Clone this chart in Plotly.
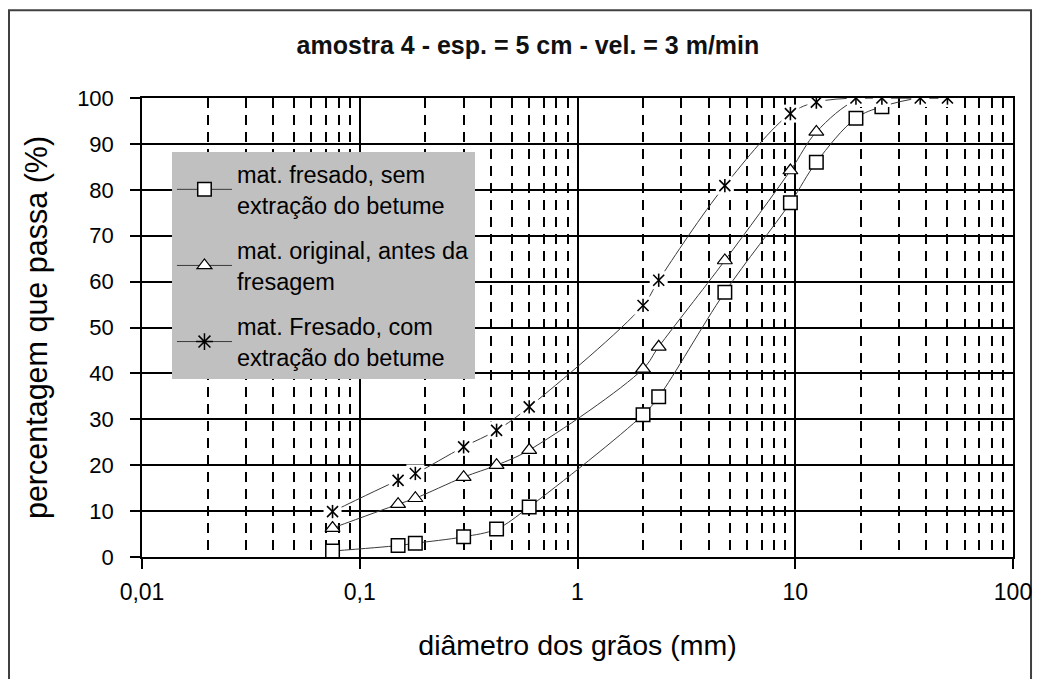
import plotly.graph_objects as go

# ---- data ----
sizes_mm = [0.075, 0.15, 0.18, 0.3, 0.425, 0.6, 2.0, 2.36, 4.75, 9.5, 12.5, 19, 25, 37.5, 50]
fresado_sem = [1.3, 2.5, 3.0, 4.4, 6.1, 10.9, 31.0, 34.9, 57.7, 77.2, 86.0, 95.6, 98.1, 100, 100]
original = [6.3, 11.5, 12.8, 17.4, 20.0, 23.3, 41.0, 45.8, 64.6, 84.2, 92.6, 99.5, 100, 100, 100]
fresado_com = [9.9, 16.7, 18.2, 24.0, 27.6, 32.7, 54.8, 60.3, 80.9, 96.6, 99.1, 100, 100, 100, 100]

names = ["mat. fresado, sem<br>extração do betume",
         "mat. original, antes da<br>fresagem",
         "mat. Fresado, com<br>extração do betume"]

x_tickvals = [0.01, 0.1, 1, 10, 100]
x_ticktext = ["0,01", "0,1", "1", "10", "100"]
y_tickvals = [0, 10, 20, 30, 40, 50, 60, 70, 80, 90, 100]

title_text = "amostra 4 - esp. = 5 cm - vel. = 3 m/min"
x_title = "diâmetro dos grãos (mm)"
y_title = "percentagem que passa (%)"

FONT = "Liberation Sans, Arial, sans-serif"
LINE_C = "#3a3a3a"

fig = go.Figure()

fig.add_trace(go.Scatter(
    x=sizes_mm, y=fresado_sem, name=names[0], legendgroup="a",
    mode="lines+markers", line=dict(color=LINE_C, width=1, shape="spline"),
    marker=dict(symbol="square", size=13.5, color="white", line=dict(color="black", width=1.5)),
))
fig.add_trace(go.Scatter(
    x=sizes_mm, y=original, name=names[1], legendgroup="b",
    mode="lines+markers", line=dict(color=LINE_C, width=1, shape="spline"),
    marker=dict(symbol="triangle-up", size=13, color="white", line=dict(color="black", width=1.2)),
))
fig.add_trace(go.Scatter(
    x=sizes_mm, y=fresado_com, name=names[2], legendgroup="c",
    mode="lines+markers", line=dict(color=LINE_C, width=1, shape="spline"),
    marker=dict(symbol="asterisk-open", size=14, color="black", line=dict(color="black", width=1.5)),
))
# white background boxes of the star markers (Excel style), then the 6-arm star
fig.add_trace(go.Scatter(
    x=sizes_mm, y=fresado_com, mode="markers", showlegend=False, hoverinfo="skip",
    marker=dict(symbol="square", size=18, color="white", line=dict(width=0)),
))
fig.add_trace(go.Scatter(
    x=sizes_mm, y=fresado_com, mode="markers", showlegend=False, hoverinfo="skip",
    marker=dict(symbol="x-thin-open", size=11, color="black", line=dict(color="black", width=1.6)),
))
fig.add_trace(go.Scatter(
    x=sizes_mm, y=fresado_com, mode="markers", showlegend=False, hoverinfo="skip",
    marker=dict(symbol="line-ns-open", size=9.5, color="black", line=dict(color="black", width=1.6)),
))

fig.update_layout(
    width=1041, height=679,
    margin=dict(l=134, r=36, t=90, b=130),
    paper_bgcolor="white", plot_bgcolor="white",
    font=dict(family=FONT, size=22, color="black"),
    title=dict(text="<b>" + title_text + "</b>", x=0.4995, xref="container", xanchor="center",
               y=0.9455, yref="container", yanchor="middle",
               font=dict(family=FONT, size=25, color="#111")),
    showlegend=True,
    legend=dict(x=0.0344, y=0.8817, xanchor="left", yanchor="top",
                bgcolor="#c0c0c0", borderwidth=0,
                font=dict(family=FONT, size=23.5, color="black"),
                traceorder="grouped", tracegroupgap=12, itemwidth=55),
)

fig.update_xaxes(
    type="log", range=[-2, 2],
    tickvals=x_tickvals, ticktext=x_ticktext,
    ticks="outside", ticklen=10, tickwidth=1.5, tickcolor="black",
    ticklabelstandoff=4,
    showgrid=True, gridcolor="black", gridwidth=1.5,
    minor=dict(dtick="D1", showgrid=True, gridcolor="black", gridwidth=1.5,
               griddash="10px,7px", ticks=""),
    showline=True, linecolor="black", linewidth=1.5, mirror=True,
    zeroline=False,
    title=dict(text=x_title, font=dict(family=FONT, size=28.5), standoff=31),
    tickfont=dict(family=FONT, size=23),
)
fig.update_yaxes(
    range=[0, 100], tickvals=y_tickvals,
    ticks="outside", ticklen=10, tickwidth=1.5, tickcolor="black",
    ticklabelstandoff=12,
    showgrid=True, gridcolor="black", gridwidth=1.5,
    showline=True, linecolor="black", linewidth=1.5, mirror=True,
    zeroline=False,
    title=dict(text=y_title, font=dict(family=FONT, size=30.5), standoff=20),
    tickfont=dict(family=FONT, size=22),
)

# outer chart border
fig.add_shape(type="rect", xref="paper", yref="paper",
              x0=-0.1527, x1=1.0207, y0=-0.4, y1=1.191,
              line=dict(color="#404040", width=2), fillcolor="rgba(0,0,0,0)", layer="below")

fig.write_html("out.html")
